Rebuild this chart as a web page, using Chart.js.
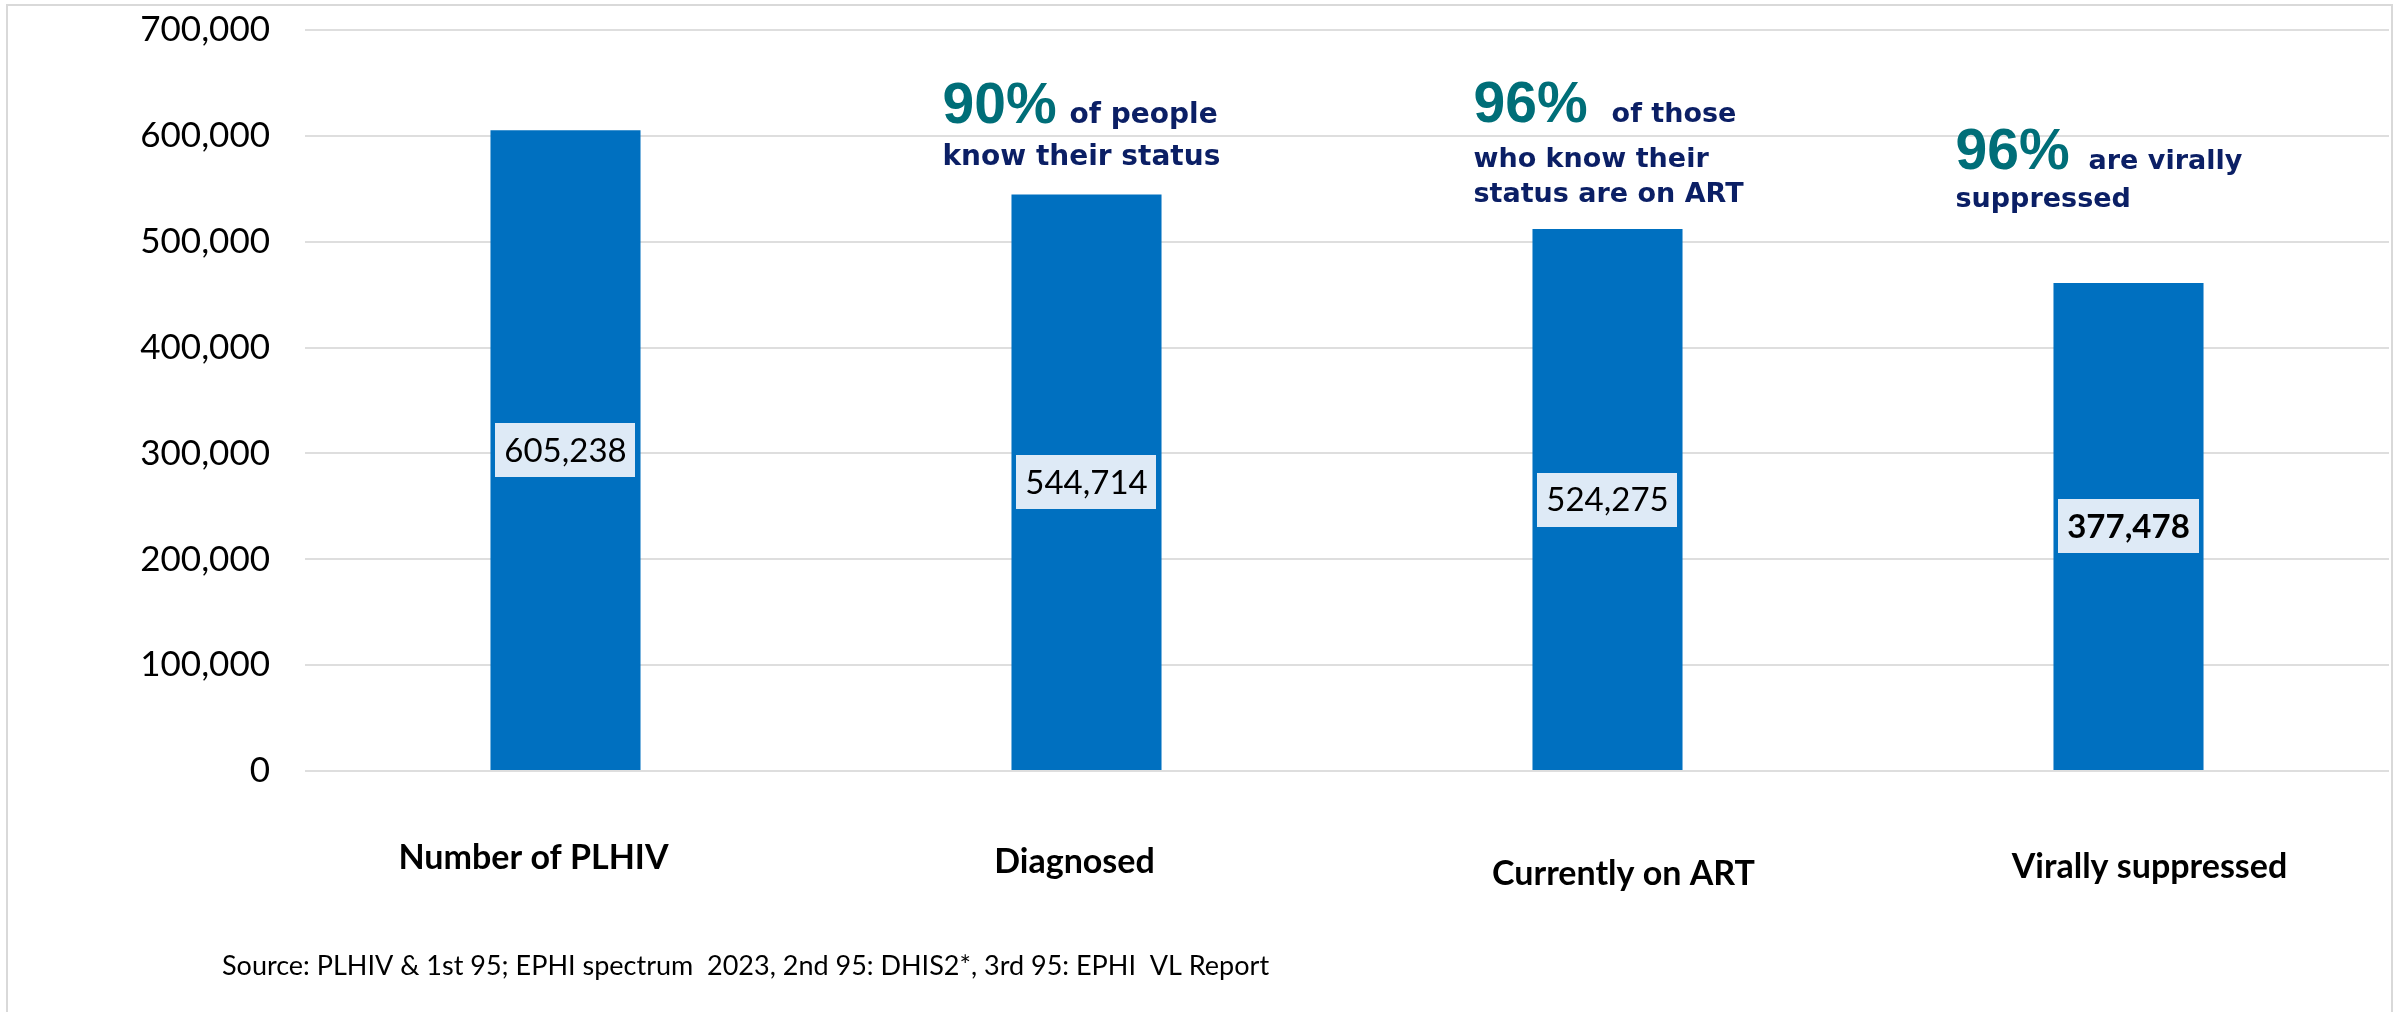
<!DOCTYPE html>
<html>
<head>
<meta charset="utf-8">
<script src="https://cdn.jsdelivr.net/npm/chart.js@4.4.1/dist/chart.umd.min.js"></script>
<style>
  html, body { margin: 0; padding: 0; background: #ffffff; }
  #wrap { position: relative; width: 2405px; height: 1012px; }
  canvas { display: block; }
</style>
</head>
<body>
<div id="wrap"><canvas id="c" width="2405" height="1012"></canvas></div>
<script>
// ---------- DATA ----------
const categories = ["Number of PLHIV", "Diagnosed", "Currently on ART", "Virally suppressed"];
const barValues = [605238, 544714, 512000, 461000];          // bar heights as drawn
const valueLabels = ["605,238", "544,714", "524,275", "377,478"]; // printed data labels
const valueLabelBold = [false, false, false, true];
const yTickValues = [0, 100000, 200000, 300000, 400000, 500000, 600000, 700000];
const percentTexts = ["", "90%", "96%", "96%"];
const annotationLines = [
  [],
  ["of people", "know their status"],
  ["of those", "who know their", "status are on ART"],
  ["are virally", "suppressed"]
];
const sourceNote = "Source: PLHIV & 1st 95; EPHI spectrum  2023, 2nd 95: DHIS2*, 3rd 95: EPHI  VL Report";

// ---------- STYLE / LAYOUT ----------
const COLORS = {
  bar: "#0070C0",
  grid: "#DEDEDE",
  labelBox: "#DEEAF6",
  teal: "#006E78",
  navy: "#0B1F65",
  text: "#000000",
  frame: "#D9D9D9"
};
const annotationLayout = [
  null,
  { dx: -144, baselines: [123, 165], gap: 13, size: 28 },
  { dx: -134, baselines: [122, 167, 202], gap: 24, size: 27 },
  { dx: -173, baselines: [169, 207], gap: 19, size: 27 }
];
// category text boxes sit slightly off the bar centres in the original slide
const categoryLabelLayout = [
  { dx: -32, baseline: 869 },
  { dx: -12, baseline: 873 },
  { dx: 16, baseline: 885 },
  { dx: 21, baseline: 878 }
];

const frameAndNotes = {
  id: "frameAndNotes",
  beforeDraw(chart) {
    const ctx = chart.ctx;
    ctx.save();
    ctx.fillStyle = "#ffffff";
    ctx.fillRect(0, 0, chart.width, chart.height);
    ctx.strokeStyle = COLORS.frame;
    ctx.lineWidth = 2;
    ctx.strokeRect(7, 5, 2385, 1030);
    ctx.restore();
  },
  afterDatasetsDraw(chart) {
    const ctx = chart.ctx;
    const meta = chart.getDatasetMeta(0);
    const xs = chart.scales.x;
    ctx.save();
    // data labels in boxes at bar middles
    meta.data.forEach((bar, i) => {
      const cy = (bar.y + bar.base) / 2;
      ctx.font = (valueLabelBold[i] ? "bold " : "") + "33px Lato";
      const w = ctx.measureText(valueLabels[i]).width;
      const bw = w + 18, bh = 54;
      ctx.fillStyle = COLORS.labelBox;
      ctx.fillRect(Math.round(bar.x - bw / 2), Math.round(cy - bh / 2), Math.round(bw), bh);
      ctx.fillStyle = COLORS.text;
      ctx.textAlign = "center";
      ctx.textBaseline = "middle";
      ctx.fillText(valueLabels[i], bar.x, cy + 1);
    });
    // category labels under the axis
    ctx.font = "bold 34px Lato";
    ctx.fillStyle = COLORS.text;
    ctx.textAlign = "center";
    ctx.textBaseline = "alphabetic";
    categories.forEach((c, i) => {
      const lay = categoryLabelLayout[i];
      ctx.fillText(c, xs.getPixelForValue(i) + lay.dx, lay.baseline);
    });
    // annotations
    ctx.textAlign = "left";
    categories.forEach((c, i) => {
      const lay = annotationLayout[i];
      if (!lay) return;
      const left = xs.getPixelForValue(i) + lay.dx;
      ctx.font = "bold 57px 'Liberation Sans'";
      ctx.fillStyle = COLORS.teal;
      ctx.fillText(percentTexts[i], left, lay.baselines[0]);
      const pw = ctx.measureText(percentTexts[i]).width;
      ctx.font = "bold " + lay.size + "px 'DejaVu Sans'";
      ctx.fillStyle = COLORS.navy;
      annotationLines[i].forEach((line, k) => {
        const x = k === 0 ? left + pw + lay.gap : left;
        ctx.fillText(line, x, lay.baselines[k]);
      });
    });
    // source note
    ctx.font = "27px Lato";
    ctx.fillStyle = COLORS.text;
    ctx.fillText(sourceNote, 222, 975);
    ctx.restore();
  }
};

function build() {
  new Chart(document.getElementById("c"), {
    type: "bar",
    data: {
      labels: categories,
      datasets: [{
        data: barValues,
        backgroundColor: COLORS.bar,
        borderWidth: 0,
        barPercentage: 0.288,
        categoryPercentage: 1.0
      }]
    },
    options: {
      responsive: false,
      animation: false,
      devicePixelRatio: 1,
      layout: { padding: { left: 0, right: 16, top: 30, bottom: 0 } },
      plugins: { legend: { display: false }, tooltip: { enabled: false } },
      scales: {
        x: {
          grid: { display: false },
          border: { display: false },
          ticks: { display: false },
          afterFit(s) { s.height = 241; s.paddingLeft = 0; s.paddingRight = 0; }
        },
        y: {
          min: 0,
          max: 700000,
          afterBuildTicks(s) { s.ticks = yTickValues.map(v => ({ value: v })); },
          grid: { color: COLORS.grid, lineWidth: 2, drawTicks: false },
          border: { display: false },
          ticks: {
            font: { family: "Lato", size: 35 },
            color: COLORS.text,
            padding: 35,
            callback: v => Number(v).toLocaleString("en-US")
          },
          afterFit(s) { s.width = 305; s.paddingTop = 0; s.paddingBottom = 0; }
        }
      }
    },
    plugins: [frameAndNotes]
  });
}

Promise.all([
  document.fonts.load("35px Lato"),
  document.fonts.load("bold 35px Lato"),
  document.fonts.load("bold 57px 'Liberation Sans'"),
  document.fonts.load("bold 27px 'DejaVu Sans'")
]).then(build, build);
</script>
</body>
</html>
